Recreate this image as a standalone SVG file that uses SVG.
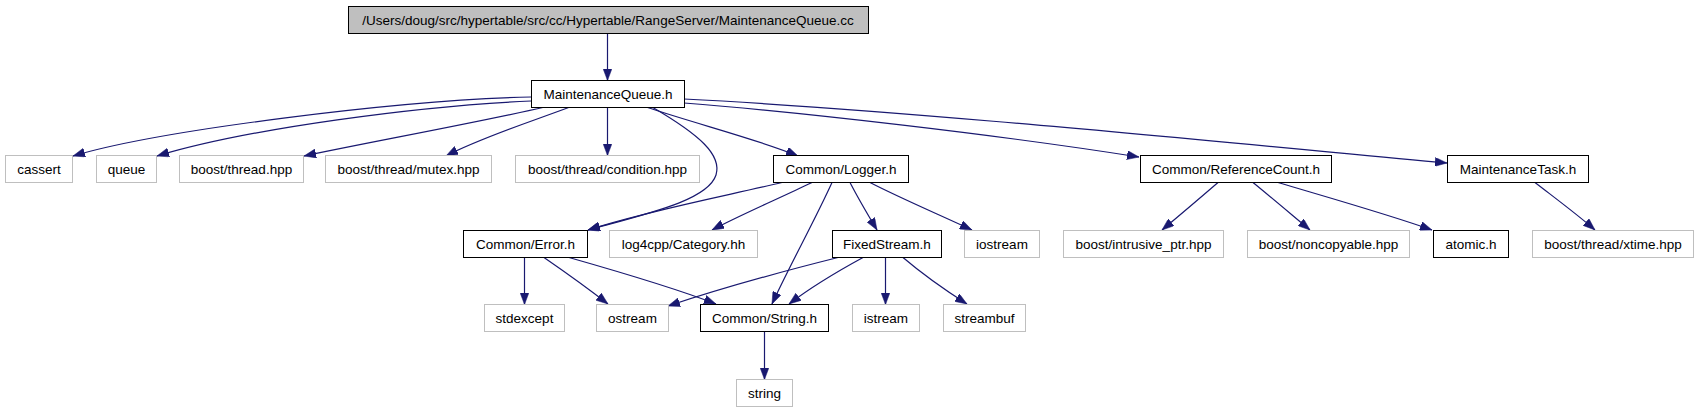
<svg xmlns="http://www.w3.org/2000/svg" width="1697" height="411" viewBox="0 0 1697 411">
<style>
rect{fill:#fff;stroke:#bfbfbf;stroke-width:1}
.b rect{stroke:#000}
.r rect{fill:#bfbfbf;stroke:#000}
text{font-family:"Liberation Sans",Arial,sans-serif;font-size:13.5px;fill:#000;text-anchor:middle}
#edges path{fill:none;stroke:#191970;stroke-width:1.2;marker-end:url(#ah)}
</style>
<defs>
<marker id="ah" viewBox="0 0 12 9" markerWidth="12" markerHeight="9" markerUnits="userSpaceOnUse" refX="12" refY="4.5" orient="auto">
<path d="M0,0 L12,4.5 L0,9 Z" fill="#191970" stroke="#191970" stroke-width="0.5"/>
</marker>
</defs>
<rect x="0" y="0" width="1697" height="411" style="fill:#fff;stroke:none"/>
<g id="edges">
<path d="M607.5,33.5 L607.5,80.5"/>
<path d="M531,97 C400,100 160,130 73,156"/>
<path d="M531,101 C420,106 250,128 157,156"/>
<path d="M545,107 C480,122 370,142 304,156"/>
<path d="M570,107 C530,122 480,138 446,156"/>
<path d="M607.5,107.5 L607.5,155.5"/>
<path d="M646,107 C700,125 760,140 798,156"/>
<path d="M652,107 C700,135 722,155 716,175 C708,200 650,213 588,230"/>
<path d="M684,103 C800,112 1000,135 1139,157"/>
<path d="M684,99 C900,110 1200,140 1447,163"/>
<path d="M782,182.5 C730,195 650,210 588,230"/>
<path d="M812,182.5 C780,198 740,215 712,230"/>
<path d="M832,182.5 C815,220 790,265 772,304"/>
<path d="M850,182.5 C858,198 868,215 877,230"/>
<path d="M870,182.5 C900,198 940,215 972,230"/>
<path d="M524.5,257.5 L524.5,304.5"/>
<path d="M544,257.5 C565,272 590,290 608,304"/>
<path d="M569,257.5 C620,272 680,290 716,304"/>
<path d="M838,257.5 C780,272 710,292 668,306"/>
<path d="M863,257.5 C840,270 810,288 789,304"/>
<path d="M885.5,257.5 L885.5,304.5"/>
<path d="M903,257.5 C920,272 945,290 967,304"/>
<path d="M764.5,331.5 L764.5,379.5"/>
<path d="M1218,182.5 C1200,198 1180,215 1162,230"/>
<path d="M1253,182.5 C1272,198 1292,215 1310,230"/>
<path d="M1278,182.5 C1330,198 1390,215 1432,230"/>
<path d="M1535,182.5 C1555,198 1578,215 1595,230"/>
</g>
<g id="n_top" class="r"><rect x="348.5" y="6.5" width="520" height="27"/><text x="608" y="24.5">/Users/doug/src/hypertable/src/cc/Hypertable/RangeServer/MaintenanceQueue.cc</text></g>
<g id="n_mq" class="b"><rect x="531.5" y="80.5" width="153" height="27"/><text x="608" y="98.5">MaintenanceQueue.h</text></g>
<g id="n_cassert"><rect x="5.5" y="155.5" width="67" height="27"/><text x="39" y="173.5">cassert</text></g>
<g id="n_queue"><rect x="96.5" y="155.5" width="60" height="27"/><text x="126.5" y="173.5">queue</text></g>
<g id="n_thread"><rect x="179.5" y="155.5" width="124" height="27"/><text x="241.5" y="173.5">boost/thread.hpp</text></g>
<g id="n_mutex"><rect x="325.5" y="155.5" width="166" height="27"/><text x="408.5" y="173.5">boost/thread/mutex.hpp</text></g>
<g id="n_condition"><rect x="515.5" y="155.5" width="184" height="27"/><text x="607.5" y="173.5">boost/thread/condition.hpp</text></g>
<g id="n_logger" class="b"><rect x="773.5" y="155.5" width="135" height="27"/><text x="841" y="173.5">Common/Logger.h</text></g>
<g id="n_refcount" class="b"><rect x="1140.5" y="155.5" width="191" height="27"/><text x="1236" y="173.5">Common/ReferenceCount.h</text></g>
<g id="n_mtask" class="b"><rect x="1447.5" y="155.5" width="141" height="27"/><text x="1518" y="173.5">MaintenanceTask.h</text></g>
<g id="n_error" class="b"><rect x="463.5" y="230.5" width="124" height="27"/><text x="525.5" y="248.5">Common/Error.h</text></g>
<g id="n_log4cpp"><rect x="609.5" y="230.5" width="148" height="27"/><text x="683.5" y="248.5">log4cpp/Category.hh</text></g>
<g id="n_fixed" class="b"><rect x="832.5" y="230.5" width="109" height="27"/><text x="887" y="248.5">FixedStream.h</text></g>
<g id="n_iostream"><rect x="964.5" y="230.5" width="75" height="27"/><text x="1002" y="248.5">iostream</text></g>
<g id="n_intrusive"><rect x="1063.5" y="230.5" width="160" height="27"/><text x="1143.5" y="248.5">boost/intrusive_ptr.hpp</text></g>
<g id="n_noncopy"><rect x="1247.5" y="230.5" width="162" height="27"/><text x="1328.5" y="248.5">boost/noncopyable.hpp</text></g>
<g id="n_atomic" class="b"><rect x="1433.5" y="230.5" width="75" height="27"/><text x="1471" y="248.5">atomic.h</text></g>
<g id="n_xtime"><rect x="1532.5" y="230.5" width="161" height="27"/><text x="1613" y="248.5">boost/thread/xtime.hpp</text></g>
<g id="n_stdexcept"><rect x="484.5" y="304.5" width="80" height="27"/><text x="524.5" y="322.5">stdexcept</text></g>
<g id="n_ostream"><rect x="596.5" y="304.5" width="72" height="27"/><text x="632.5" y="322.5">ostream</text></g>
<g id="n_string_h" class="b"><rect x="700.5" y="304.5" width="128" height="27"/><text x="764.5" y="322.5">Common/String.h</text></g>
<g id="n_istream"><rect x="852.5" y="304.5" width="67" height="27"/><text x="886" y="322.5">istream</text></g>
<g id="n_streambuf"><rect x="943.5" y="304.5" width="82" height="27"/><text x="984.5" y="322.5">streambuf</text></g>
<g id="n_string"><rect x="736.5" y="379.5" width="56" height="27"/><text x="764.5" y="397.5">string</text></g>
</svg>
